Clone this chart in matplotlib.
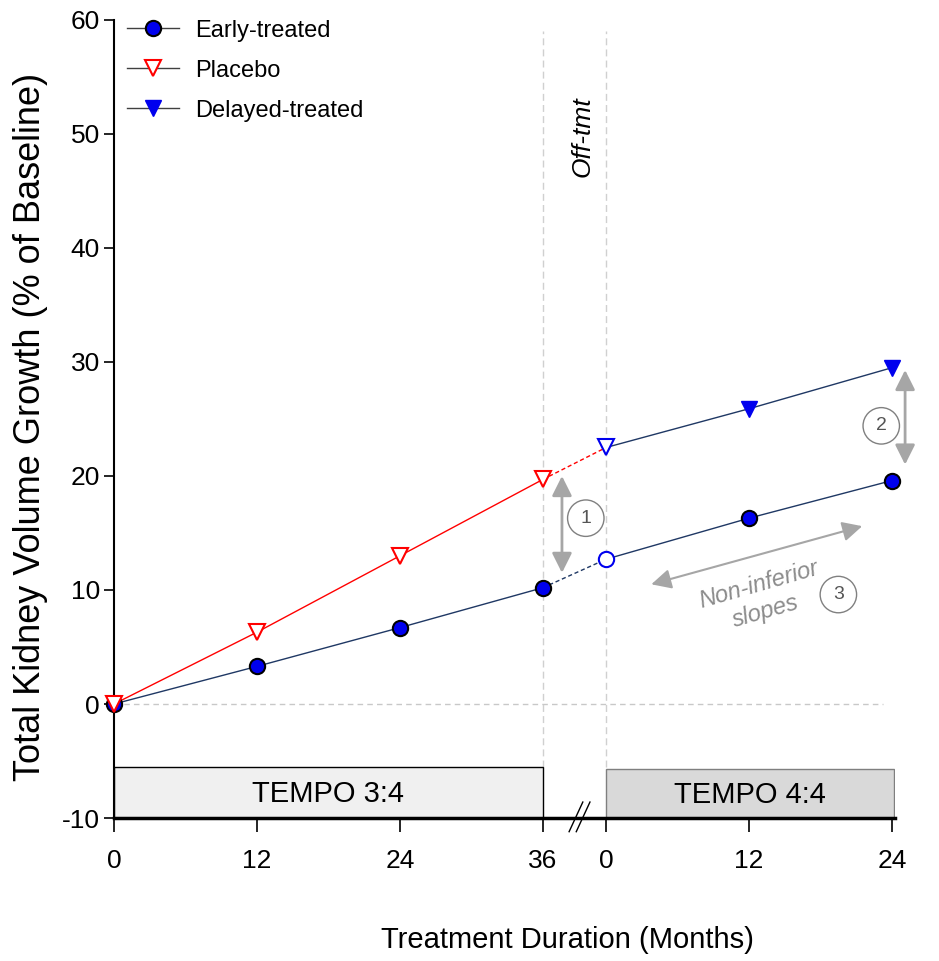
import matplotlib
matplotlib.use("Agg")
import matplotlib.pyplot as plt
from matplotlib.lines import Line2D
from matplotlib.patches import Rectangle

# data
months_34 = [0, 12, 24, 36]
months_44 = [0, 12, 24]
early_34 = [0, 3.3, 6.7, 10.2]
placebo_34 = [0, 6.3, 13.0, 19.7]
early_44 = [12.7, 16.3, 19.6]
delayed_44 = [22.5, 25.9, 29.5]
tick_labels = ["0", "12", "24", "36", "0", "12", "24"]
y_ticks = [-10, 0, 10, 20, 30, 40, 50, 60]

OFF = 41.3  # where TEMPO 4:4 month 0 sits on the shared x axis
x44 = [OFF + m for m in months_44]

plt.rcParams["axes.unicode_minus"] = False
font = ["Liberation Sans", "DejaVu Sans"]
grey = "#a6a6a6"
navy = "#1f3864"

fig = plt.figure(figsize=(9.39, 9.61), dpi=100)
ax = fig.add_axes([0.1214, 0.1488, 0.8317, 0.8304])
ax.set_xlim(0, 65.55)
ax.set_ylim(-10, 60)

# reference lines
ax.axhline(0, color="#c8c8c8", lw=1, ls=(0, (4, 3)), xmax=0.985, zorder=1)
for xv in [36, OFF]:
    ax.plot([xv, xv], [-5.5, 59], color="#d0d0d0", lw=1, ls=(0, (5, 3)), zorder=1)

# study boxes
ax.add_patch(Rectangle((0, -10), 36, 4.5, facecolor="#f0f0f0", edgecolor="black", lw=1, zorder=2))
ax.add_patch(Rectangle((OFF, -10), 24.2, 4.3, facecolor="#d9d9d9", edgecolor="#7f7f7f", lw=1, zorder=2))
ax.text(18, -7.9, "TEMPO 3:4", ha="center", va="center", fontsize=21, family=font, zorder=3)
ax.text(OFF + 12.1, -8.0, "TEMPO 4:4", ha="center", va="center", fontsize=21, family=font, zorder=3)

# series
ax.plot(months_34, early_34, color=navy, lw=1, zorder=3)
ax.plot(months_34, placebo_34, color="red", lw=1, zorder=3)
ax.plot([36, OFF], [early_34[-1], early_44[0]], color=navy, lw=1, ls=(0, (3, 2)), zorder=3)
ax.plot([36, OFF], [placebo_34[-1], delayed_44[0]], color="red", lw=1, ls=(0, (3, 2)), zorder=3)
ax.plot(x44, early_44, color=navy, lw=1, zorder=3)
ax.plot(x44, delayed_44, color=navy, lw=1, zorder=3)

ax.plot(months_34, early_34, "o", ms=11, mfc="#0000ee", mec="black", mew=1.5, zorder=4, clip_on=False)
ax.plot(months_34, placebo_34, "v", ms=12, mfc="white", mec="red", mew=1.5, zorder=5, clip_on=False)
ax.plot(x44[1:], early_44[1:], "o", ms=11, mfc="#0000ee", mec="black", mew=1.5, zorder=4, clip_on=False)
ax.plot(x44[:1], early_44[:1], "o", ms=11, mfc="white", mec="#0000ee", mew=1.5, zorder=4, clip_on=False)
ax.plot(x44[1:], delayed_44[1:], "v", ms=12, mfc="#0000ee", mec="#0000ee", mew=1, zorder=4, clip_on=False)
ax.plot(x44[:1], delayed_44[:1], "v", ms=12, mfc="white", mec="#0000ee", mew=1.5, zorder=4, clip_on=False)

# annotations
arrow = dict(arrowstyle="<|-|>", color=grey, lw=2, mutation_scale=30, shrinkA=0, shrinkB=0)
ax.annotate("", xy=(37.6, 20.0), xytext=(37.6, 11.5), arrowprops=arrow, annotation_clip=False)
ax.annotate("", xy=(66.4, 29.3), xytext=(66.4, 21.0), arrowprops=arrow, annotation_clip=False)
ax.annotate("", xy=(62.8, 15.6), xytext=(45.1, 10.5),
            arrowprops=dict(arrowstyle="<|-|>", color=grey, lw=1.5, mutation_scale=30, shrinkA=0, shrinkB=0),
            annotation_clip=False)
circ = dict(boxstyle="circle,pad=0.5", facecolor="white", edgecolor="#808080", lw=1)
ax.text(39.6, 16.3, "1", ha="center", va="center", fontsize=14, color="#555555", family=font, bbox=circ)
ax.text(64.4, 24.4, "2", ha="center", va="center", fontsize=14, color="#555555", family=font, bbox=circ)
ax.text(60.8, 9.6, "3", ha="center", va="center", fontsize=14, color="#555555", family=font, bbox=circ)
ax.text(54.4, 9.3, "Non-inferior\nslopes", ha="center", va="center", fontsize=17, color="#8c8c8c",
        style="italic", rotation=16, family=font, linespacing=1.25)
ax.text(39.3, 49.8, "Off-tmt", ha="center", va="center", rotation=90, fontsize=19, style="italic", family=font)

# axis break marks
for dx in [0, 0.6]:
    ax.plot([38.2 + dx, 39.35 + dx], [-11.2, -8.6], color="black", lw=1, clip_on=False, zorder=6)

# axes styling
for s in ["top", "right"]:
    ax.spines[s].set_visible(False)
ax.spines["left"].set_linewidth(1.5)
ax.spines["bottom"].set_linewidth(2.5)
ax.spines["bottom"].set_bounds(0, OFF + 24.25)
ax.set_yticks(y_ticks)
ax.set_xticks(months_34 + x44)
ax.set_xticklabels(tick_labels)
ax.tick_params(axis="y", direction="out", length=7, width=1.2, pad=3, labelsize=19)
ax.tick_params(axis="x", direction="out", length=10, width=1.2, pad=12, labelsize=19)
for lab in ax.get_xticklabels() + ax.get_yticklabels():
    lab.set_family(font)

ax.set_ylabel("Total Kidney Volume Growth (% of Baseline)", fontsize=26, family=font)
ax.yaxis.set_label_coords(-0.084, 0.49)
ax.set_xlabel("Treatment Duration (Months)", fontsize=21, family=font)
ax.xaxis.set_label_coords(0.58, -0.153)
ax.xaxis.label.set_va("center")

handles = [
    Line2D([], [], color="#404040", lw=1, marker="o", ms=11, mfc="#0000ee", mec="black", mew=1.5),
    Line2D([], [], color="#404040", lw=1, marker="v", ms=12, mfc="white", mec="red", mew=1.5),
    Line2D([], [], color="#404040", lw=1, marker="v", ms=12, mfc="#0000ee", mec="#0000ee"),
]
ax.legend(handles, ["Early-treated", "Placebo", "Delayed-treated"], loc="upper left",
          bbox_to_anchor=(-0.01, 1.027), frameon=False, prop={"family": font, "size": 17},
          handlelength=2.2, handletextpad=0.65, labelspacing=0.76)

fig.savefig("out.png", dpi=100)
